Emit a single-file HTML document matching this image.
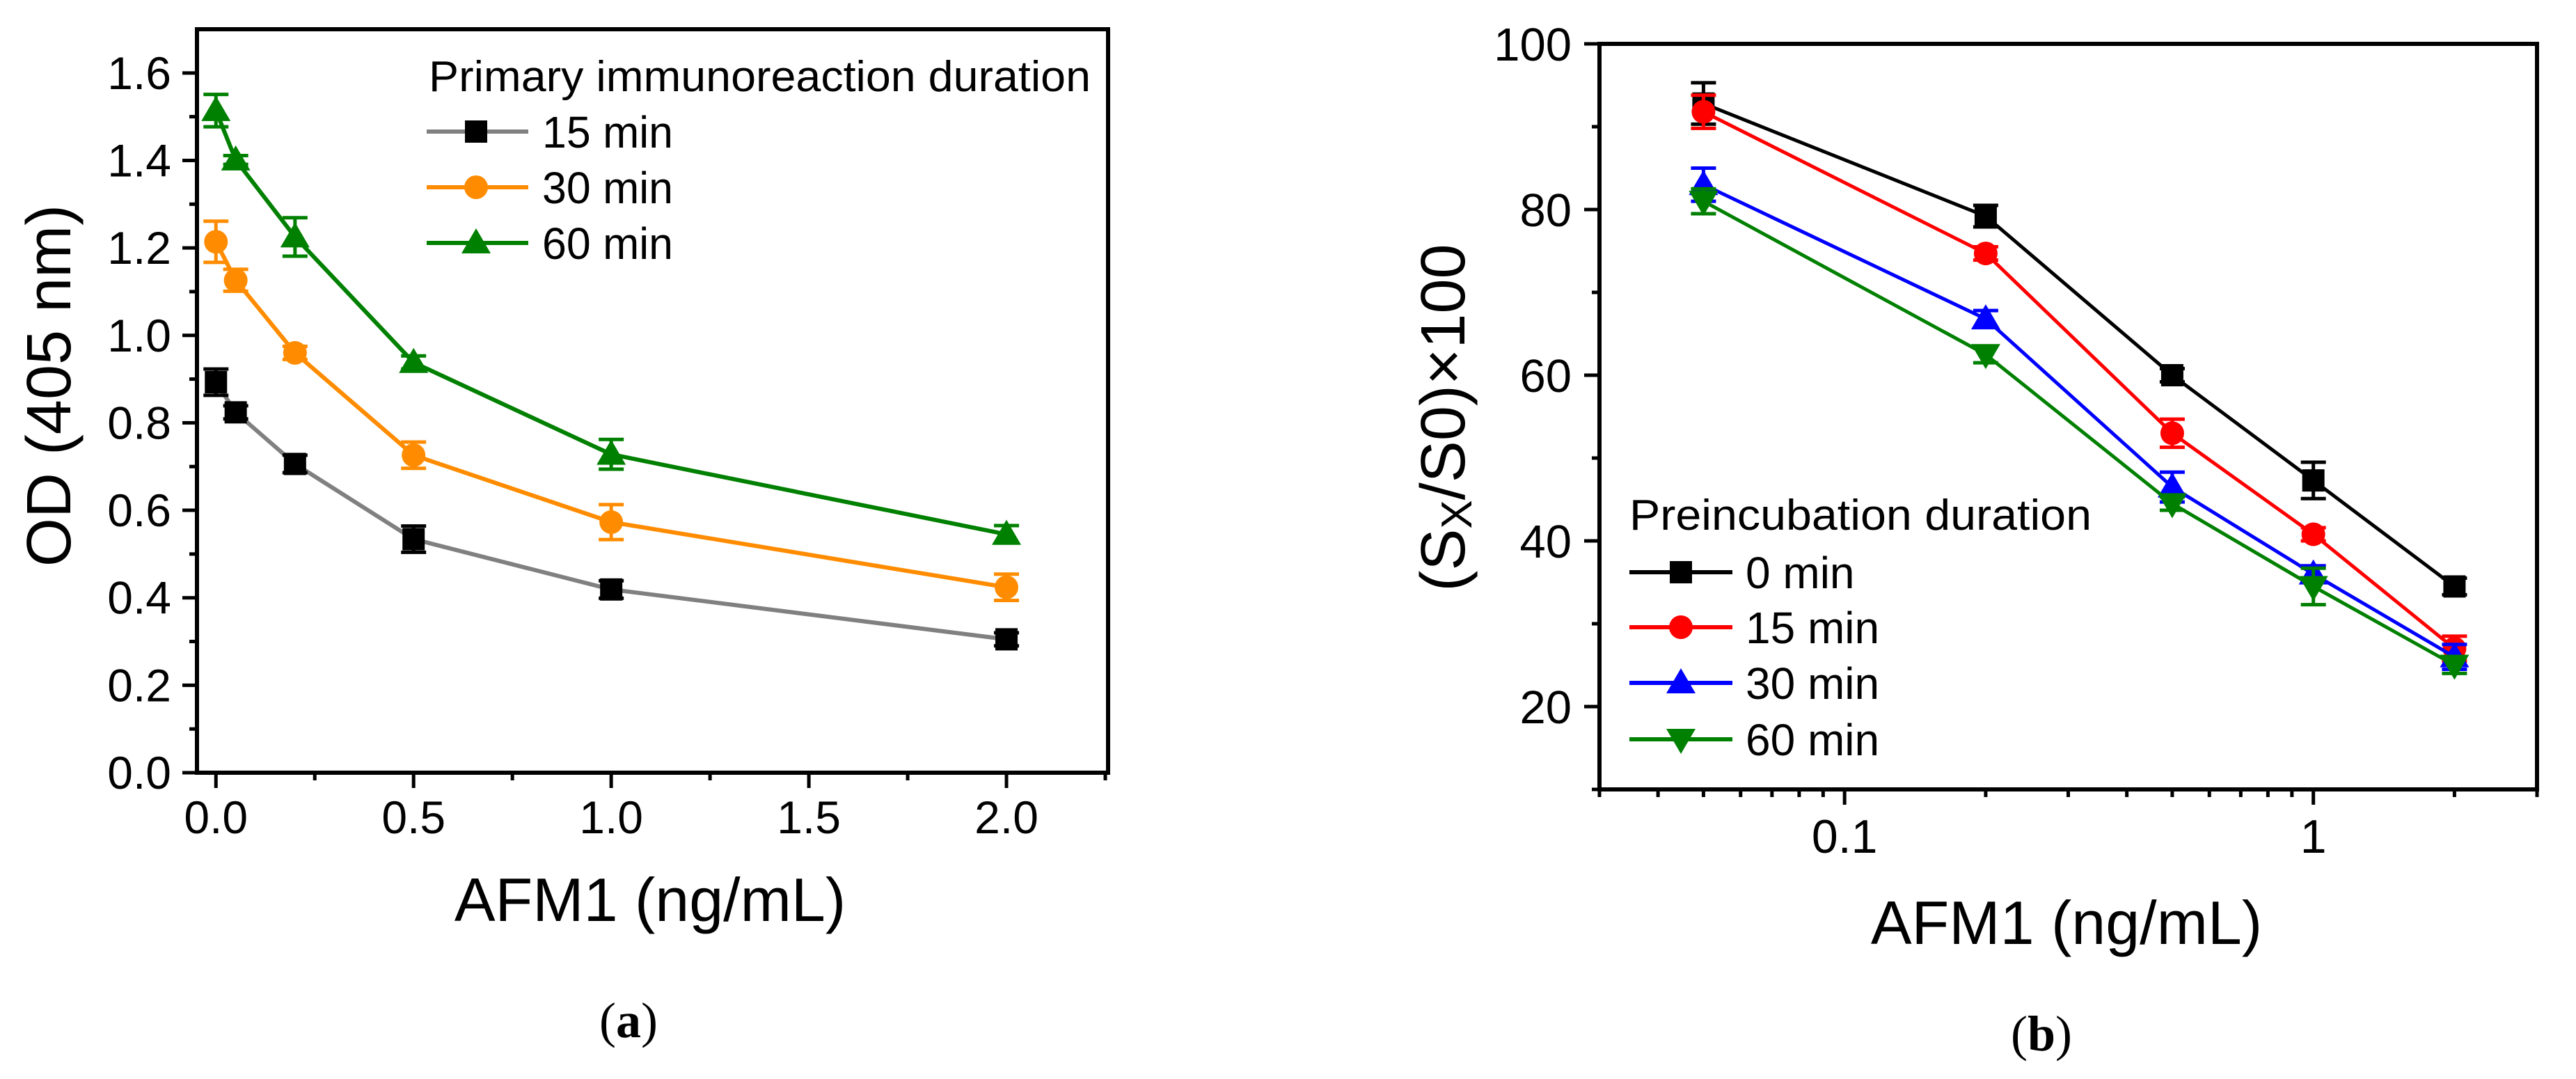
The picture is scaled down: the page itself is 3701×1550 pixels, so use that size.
<!DOCTYPE html>
<html><head><meta charset="utf-8"><style>
html,body{margin:0;padding:0;background:#fff;}
svg{display:block;font-family:"Liberation Sans",Arial,sans-serif;}
</style></head><body>
<svg id="fig" width="3701" height="1550" viewBox="0 0 3701 1550" xmlns="http://www.w3.org/2000/svg">
<rect x="0" y="0" width="3701" height="1550" fill="#fff"/>
<g id="chartA"></g>
<g id="chartB"></g>
</svg>
<script>
// ---------- Chart A data ----------
const aX = [0, 0.05, 0.2, 0.5, 1.0, 2.0];
const aNames = ["15 min", "30 min", "60 min"];
const a15 = [0.893, 0.824, 0.706, 0.534, 0.419, 0.305];
const a15Err = [0.03, 0.015, 0.02, 0.03, 0.02, 0.015];
const a30 = [1.214, 1.126, 0.96, 0.726, 0.573, 0.424];
const a30Err = [0.047, 0.025, 0.015, 0.03, 0.04, 0.03];
const a60 = [1.514, 1.401, 1.225, 0.938, 0.728, 0.545];
const a60Err = [0.037, 0.01, 0.044, 0.015, 0.034, 0.02];
const aYTicks = ["0.0","0.2","0.4","0.6","0.8","1.0","1.2","1.4","1.6"];
const aXTicks = ["0.0","0.5","1.0","1.5","2.0"];
// ---------- Chart B data ----------
const bX = [0.05, 0.2, 0.5, 1, 2];
const bNames = ["0 min", "15 min", "30 min", "60 min"];
const b0 = [92.8, 79.2, 60.0, 47.3, 34.5];
const b0Err = [2.5, 1.3, 0.8, 2.2, 1.0];
const b15 = [91.8, 74.7, 53.0, 40.8, 27.0];
const b15Err = [2.0, 0.8, 1.7, 0.8, 1.5];
const b30 = [83.0, 66.8, 46.5, 36.0, 26.0];
const b30Err = [2.0, 1.0, 1.8, 1.0, 1.5];
const b60 = [81.0, 62.5, 44.5, 34.5, 25.0];
const b60Err = [1.5, 1.0, 0.8, 2.2, 1.0];
const bYTicks = ["20","40","60","80","100"];
const bXTicks = ["0.1","1"];

const NS = "http://www.w3.org/2000/svg";
function mk(parent, tag, attrs, text) {
  const el = document.createElementNS(NS, tag);
  for (const k in attrs) el.setAttribute(k, attrs[k]);
  if (text !== undefined) el.textContent = text;
  parent.appendChild(el);
  return el;
}
function marker(g, shape, cx, cy, color) {
  let el;
  if (shape === "square") el = mk(g, "rect", {x: cx-16, y: cy-16, width: 32, height: 32, fill: color});
  else if (shape === "circle") el = mk(g, "circle", {cx: cx, cy: cy, r: 17, fill: color});
  else if (shape === "up") el = mk(g, "polygon", {points: `${cx},${cy-21} ${cx+21},${cy+15} ${cx-21},${cy+15}`, fill: color});
  else el = mk(g, "polygon", {points: `${cx},${cy+21} ${cx+21},${cy-15} ${cx-21},${cy-15}`, fill: color});
  return el;
}

// ================= Chart A =================
(function(){
  const g = document.getElementById("chartA");
  const L = 283, R = 1592, T = 42, B = 1110;
  const xmin = -0.048, xmax = 2.257, ymin = 0, ymax = 1.70;
  const sx = v => L + (v - xmin) / (xmax - xmin) * (R - L);
  const sy = v => B - (v - ymin) / (ymax - ymin) * (B - T);

  // ticks
  for (let i = 0; i <= 16; i++) {
    const v = i * 0.1, y = sy(v), major = i % 2 === 0;
    const t = mk(g, "line", {x1: L - (major ? 21 : 11), x2: L, y1: y, y2: y, stroke: "#000", "stroke-width": 5});
    
    
  }
  aYTicks.forEach(s => {
    const t = mk(g, "text", {x: 246, y: sy(parseFloat(s)) + 23, "font-size": 66, "text-anchor": "end"}, s);
    
    
  });
  for (let i = 0; i <= 9; i++) {
    const v = i * 0.25, x = sx(v), major = i % 2 === 0;
    const t = mk(g, "line", {x1: x, x2: x, y1: B, y2: B + (major ? 22 : 11), stroke: "#000", "stroke-width": 5});
    
    
  }
  aXTicks.forEach(s => {
    const t = mk(g, "text", {x: sx(parseFloat(s)), y: 1197, "font-size": 66, "text-anchor": "middle"}, s);
    
    
  });
  const frame = mk(g, "rect", {x: L, y: T, width: R - L, height: B - T, fill: "none", stroke: "#000", "stroke-width": 6});
  
  

  const yt = mk(g, "text", {x: 0, y: 0, "font-size": 90, "text-anchor": "middle", transform: "translate(101,554) rotate(-90)"}, "OD (405 nm)");
  
  
  const xt = mk(g, "text", {x: 934, y: 1323, "font-size": 88, "text-anchor": "middle"}, "AFM1 (ng/mL)");
  
  
  const cap = mk(g, "text", {x: 903, y: 1490, "font-size": 72, "text-anchor": "middle", "font-family": "Liberation Serif, serif"});
  
  
  mk(cap, "tspan", {}, "(");
  mk(cap, "tspan", {"font-weight": "bold"}, "a");
  mk(cap, "tspan", {}, ")");

  const series = [
    {vals: a15, err: a15Err, color: "#808080", mc: "#000", shape: "square", name: "series-15-min"},
    {vals: a30, err: a30Err, color: "#FF8C00", mc: "#FF8C00", shape: "circle", name: "series-30-min"},
    {vals: a60, err: a60Err, color: "#008000", mc: "#008000", shape: "up", name: "series-60-min"}
  ];
  series.forEach((s, si) => {
    const sg = mk(g, "g", {});
    
    
    const pts = aX.map((x, i) => `${sx(x)},${sy(s.vals[i])}`).join(" ");
    const ln = mk(sg, "polyline", {points: pts, fill: "none", stroke: s.color, "stroke-width": 6});
    
    
    aX.forEach((x, i) => {
      const cx = sx(x), y1 = sy(s.vals[i] + s.err[i]), y2 = sy(s.vals[i] - s.err[i]);
      const eb = mk(sg, "path", {d: `M${cx},${y1}V${y2}M${cx-18},${y1}H${cx+18}M${cx-18},${y2}H${cx+18}`, stroke: s.mc, "stroke-width": 5, fill: "none"});
      
      
      const m = marker(sg, s.shape, cx, sy(s.vals[i]), s.mc);
      
      
    });
  });

  // legend
  const lg = mk(g, "g", {});
  
  
  const lt = mk(lg, "text", {x: 616, y: 131, "font-size": 62, textLength: 951, lengthAdjust: "spacingAndGlyphs"}, "Primary immunoreaction duration");
  
  
  const rows = [189, 269, 349];
  series.forEach((s, i) => {
    const eg = mk(lg, "g", {});
    
    
    mk(eg, "line", {x1: 613, x2: 759, y1: rows[i], y2: rows[i], stroke: s.color, "stroke-width": 6});
    marker(eg, s.shape, 684, rows[i], s.mc);
    mk(eg, "text", {x: 779, y: rows[i] + 23, "font-size": 64, textLength: 188, lengthAdjust: "spacingAndGlyphs"}, aNames[i]);
  });
})();

// ================= Chart B =================
(function(){
  const g = document.getElementById("chartB");
  const L = 2298, R = 3645, T = 63, B = 1134;
  const lxmin = Math.log10(0.03), lxmax = Math.log10(3), ymin = 10, ymax = 100;
  const sx = v => L + (Math.log10(v) - lxmin) / (lxmax - lxmin) * (R - L);
  const sy = v => B - (v - ymin) / (ymax - ymin) * (B - T);

  for (let v = 10; v <= 100; v += 10) {
    const y = sy(v), major = v % 20 === 0;
    const t = mk(g, "line", {x1: L - (major ? 22 : 11), x2: L, y1: y, y2: y, stroke: "#000", "stroke-width": 5});
    
    
  }
  bYTicks.forEach(s => {
    const t = mk(g, "text", {x: 2258, y: sy(parseFloat(s)) + 24, "font-size": 67, "text-anchor": "end"}, s);
    
    
  });
  const minors = [0.03,0.04,0.05,0.06,0.07,0.08,0.09,0.1,0.2,0.3,0.4,0.5,0.6,0.7,0.8,0.9,1,2,3];
  minors.forEach(v => {
    const x = sx(v), major = (v === 0.1 || v === 1);
    const t = mk(g, "line", {x1: x, x2: x, y1: B, y2: B + (major ? 22 : 11), stroke: "#000", "stroke-width": 5});
    
    
  });
  bXTicks.forEach(s => {
    const t = mk(g, "text", {x: sx(parseFloat(s)), y: 1225, "font-size": 68, "text-anchor": "middle"}, s);
    
    
  });
  const frame = mk(g, "rect", {x: L, y: T, width: R - L, height: B - T, fill: "none", stroke: "#000", "stroke-width": 6});
  
  

  const yt = mk(g, "text", {x: 0, y: 0, "font-size": 90, "text-anchor": "middle", transform: "translate(2104,600) rotate(-90)"});
  
  
  mk(yt, "tspan", {}, "(S");
  mk(yt, "tspan", {"font-size": 62, dy: 10}, "X");
  mk(yt, "tspan", {dy: -10}, "/S0)×100");
  const xt = mk(g, "text", {x: 2969, y: 1356, "font-size": 88, "text-anchor": "middle"}, "AFM1 (ng/mL)");
  
  
  const cap = mk(g, "text", {x: 2933, y: 1509, "font-size": 72, "text-anchor": "middle", "font-family": "Liberation Serif, serif"});
  
  
  mk(cap, "tspan", {}, "(");
  mk(cap, "tspan", {"font-weight": "bold"}, "b");
  mk(cap, "tspan", {}, ")");

  const series = [
    {vals: b0, err: b0Err, color: "#000000", shape: "square", name: "series-0-min"},
    {vals: b15, err: b15Err, color: "#FF0000", shape: "circle", name: "series-15-min"},
    {vals: b30, err: b30Err, color: "#0000FF", shape: "up", name: "series-30-min"},
    {vals: b60, err: b60Err, color: "#008000", shape: "down", name: "series-60-min"}
  ];
  series.forEach(s => {
    const sg = mk(g, "g", {});
    
    
    const pts = bX.map((x, i) => `${sx(x)},${sy(s.vals[i])}`).join(" ");
    const ln = mk(sg, "polyline", {points: pts, fill: "none", stroke: s.color, "stroke-width": 5});
    
    
    bX.forEach((x, i) => {
      const cx = sx(x), y1 = sy(s.vals[i] + s.err[i]), y2 = sy(s.vals[i] - s.err[i]);
      const eb = mk(sg, "path", {d: `M${cx},${y1}V${y2}M${cx-18},${y1}H${cx+18}M${cx-18},${y2}H${cx+18}`, stroke: s.color, "stroke-width": 5, fill: "none"});
      
      
      const m = marker(sg, s.shape, cx, sy(s.vals[i]), s.color);
      
      
    });
  });

  const lg = mk(g, "g", {});
  
  
  const lt = mk(lg, "text", {x: 2341, y: 761, "font-size": 62, textLength: 664, lengthAdjust: "spacingAndGlyphs"}, "Preincubation duration");
  
  
  const rows = [822, 901, 981, 1062];
  series.forEach((s, i) => {
    const eg = mk(lg, "g", {});
    
    
    mk(eg, "line", {x1: 2341, x2: 2489, y1: rows[i], y2: rows[i], stroke: s.color, "stroke-width": 6});
    marker(eg, s.shape, 2415, rows[i], s.color);
    mk(eg, "text", {x: 2508, y: rows[i] + 23, "font-size": 64}, bNames[i]);
  });
})();
</script>
</body></html>
